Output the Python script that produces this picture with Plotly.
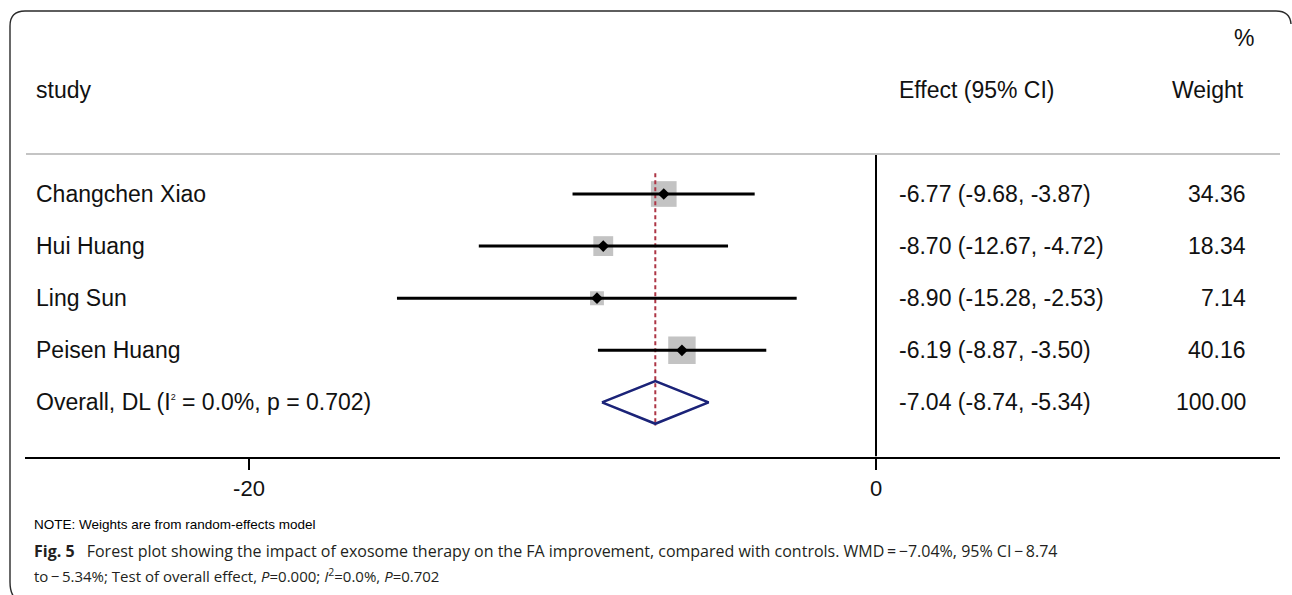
import numpy as np
import plotly.graph_objects as go

# ---- data -------------------------------------------------------------
studies = ["Changchen Xiao", "Hui Huang", "Ling Sun", "Peisen Huang"]
effect = [-6.77, -8.70, -8.90, -6.19]
ci_low = [-9.68, -12.67, -15.28, -8.87]
ci_high = [-3.87, -4.72, -2.53, -3.50]
weight = [34.36, 18.34, 7.14, 40.16]

overall_label = ("Overall, DL (I<sup><span style='font-size:9px'>2</span></sup>"
                 " = 0.0%, p = 0.702)")
overall_effect = -7.04
overall_low = -8.74
overall_high = -5.34
overall_weight = 100.00

x_ticks = [-20, 0]
x_tick_labels = ["-20", "0"]

# ---- page geometry ----------------------------------------------------
W, H = 1292, 595
FONT = "Liberation Sans, Arial, sans-serif"
CAP_FONT = "Open Sans, Noto Sans, sans-serif"
TXT = "#111111"

zero_px, unit_px = 876.0, 31.35          # horizontal scale of the effect axis
plot_left, plot_right = 25.0, 1280.0
row0_px, row_px = 194.0, 52.1            # vertical spacing of study rows
axis_px = 456.5                          # baseline of the effect axis

x_range = [(plot_left - zero_px) / unit_px, (plot_right - zero_px) / unit_px]
y_range = [(axis_px - row0_px) / row_px, -row0_px / row_px]
axis_row = y_range[0]
sep_px = 154.0
sep_row = (sep_px - row0_px) / row_px

rows = list(range(len(studies)))
overall_row = len(studies)


def px(x):
    """Horizontal page pixel -> paper fraction."""
    return x / W


def py(y):
    """Vertical page pixel (from top) -> paper fraction."""
    return 1 - y / H


fig = go.Figure()

# study weight boxes (side grows with the square root of the weight)
fig.add_trace(go.Scatter(
    x=effect, y=rows, mode="markers", hoverinfo="skip",
    marker=dict(symbol="square", size=[3.7 * np.sqrt(w) + 4 for w in weight],
                color="#a9a9a9", line=dict(width=0))))

# pooled-estimate reference line
fig.add_trace(go.Scatter(
    x=[overall_effect, overall_effect], y=[-0.40, overall_row + 0.45],
    mode="lines", hoverinfo="skip",
    line=dict(color="#ad3545", width=2, dash="4px,3px")))

# confidence intervals
ci_x, ci_y = [], []
for lo, hi, r in zip(ci_low, ci_high, rows):
    ci_x += [lo, hi, None]
    ci_y += [r, r, None]
fig.add_trace(go.Scatter(x=ci_x, y=ci_y, mode="lines", hoverinfo="skip",
                         line=dict(color="black", width=3)))

# point estimates
fig.add_trace(go.Scatter(
    x=effect, y=rows, mode="markers", hoverinfo="skip",
    marker=dict(symbol="diamond", size=9, color="black")))

# pooled diamond
dh = 0.41
fig.add_trace(go.Scatter(
    x=[overall_low, overall_effect, overall_high, overall_effect, overall_low],
    y=[overall_row, overall_row - dh, overall_row, overall_row + dh, overall_row],
    mode="lines", hoverinfo="skip",
    line=dict(color="#1b2378", width=2.6)))

frame = [(14, 597), (10, 592), (10, 582), (10, 26), (10, 11), (25, 11),
         (1276, 11), (1290, 11), (1291, 24)]
f = [(px(a), py(b)) for a, b in frame]
frame_path = ("M {0[0]},{0[1]} Q {1[0]},{1[1]} {2[0]},{2[1]} L {3[0]},{3[1]} "
              "Q {4[0]},{4[1]} {5[0]},{5[1]} L {6[0]},{6[1]} "
              "Q {7[0]},{7[1]} {8[0]},{8[1]}").format(*f)

shapes = [
    # no-effect line
    dict(type="line", xref="x", yref="y", x0=0, x1=0, y0=sep_row, y1=axis_row,
         line=dict(color="black", width=2)),
    # header separator
    dict(type="line", xref="paper", yref="paper", x0=px(26), x1=px(1280),
         y0=py(sep_px), y1=py(sep_px), line=dict(color="#c4c4c4", width=2)),
    # rounded frame
    dict(type="path", xref="paper", yref="paper", path=frame_path,
         line=dict(color="#2a2a2a", width=1.4)),
]

ann = []


def txt(x, y, s, anchor="left", size=23, yref="y", font=FONT, color=TXT):
    yy = y if yref == "y" else py(y)
    ann.append(dict(x=px(x), y=yy, xref="paper", yref=yref, text=s, showarrow=False,
                    xanchor=anchor, yanchor="middle",
                    font=dict(family=font, size=size, color=color)))


# column headers
txt(34, -2, "study")
txt(897, -2, "Effect (95% CI)")
txt(1246, -2, "Weight", anchor="right")
txt(1256, -3, "%", anchor="right")

# study rows
for name, e, lo, hi, w, r in zip(studies, effect, ci_low, ci_high, weight, rows):
    txt(34, r, name)
    txt(897, r, f"{e:.2f} ({lo:.2f}, {hi:.2f})")
    txt(1248, r, f"{w:.2f}", anchor="right")

txt(34, overall_row, overall_label)
txt(897, overall_row, f"{overall_effect:.2f} ({overall_low:.2f}, {overall_high:.2f})")
txt(1248, overall_row, f"{overall_weight:.2f}", anchor="right")

# footnote and caption
txt(32, 524, "NOTE: Weights are from random-effects model", size=13.5, yref="paper",
    color="#000000")
txt(32, 551, "<b>Fig. 5</b>\u2002 Forest plot showing the impact of exosome therapy on the FA "
             "improvement, compared with controls. WMD\u2009=\u2009\u22127.04%, 95% CI\u2009\u2212\u20098.74",
    size=16, yref="paper", font=CAP_FONT, color="#231f20")
txt(32, 575, "to\u2009\u2212\u20095.34%; Test of overall effect, <i>P</i>=0.000; "
             "<i>I</i><sup>2</sup>=0.0%, <i>P</i>=0.702",
    size=15, yref="paper", font=CAP_FONT, color="#231f20")

fig.update_layout(
    width=W, height=H, margin=dict(l=0, r=0, t=0, b=0),
    paper_bgcolor="white", plot_bgcolor="rgba(0,0,0,0)",
    showlegend=False, shapes=shapes, annotations=ann,
    xaxis=dict(domain=[px(plot_left), px(plot_right)], range=x_range,
               showline=True, linecolor="black", linewidth=2,
               ticks="outside", ticklen=11, tickwidth=2, tickcolor="black",
               tickvals=x_ticks, ticktext=x_tick_labels,
               tickfont=dict(family=FONT, size=22, color=TXT),
               showgrid=False, zeroline=False, anchor="y", fixedrange=True),
    yaxis=dict(domain=[py(axis_px), 1], range=y_range, visible=False,
               showgrid=False, zeroline=False, fixedrange=True),
)

fig.write_html("out.html")
